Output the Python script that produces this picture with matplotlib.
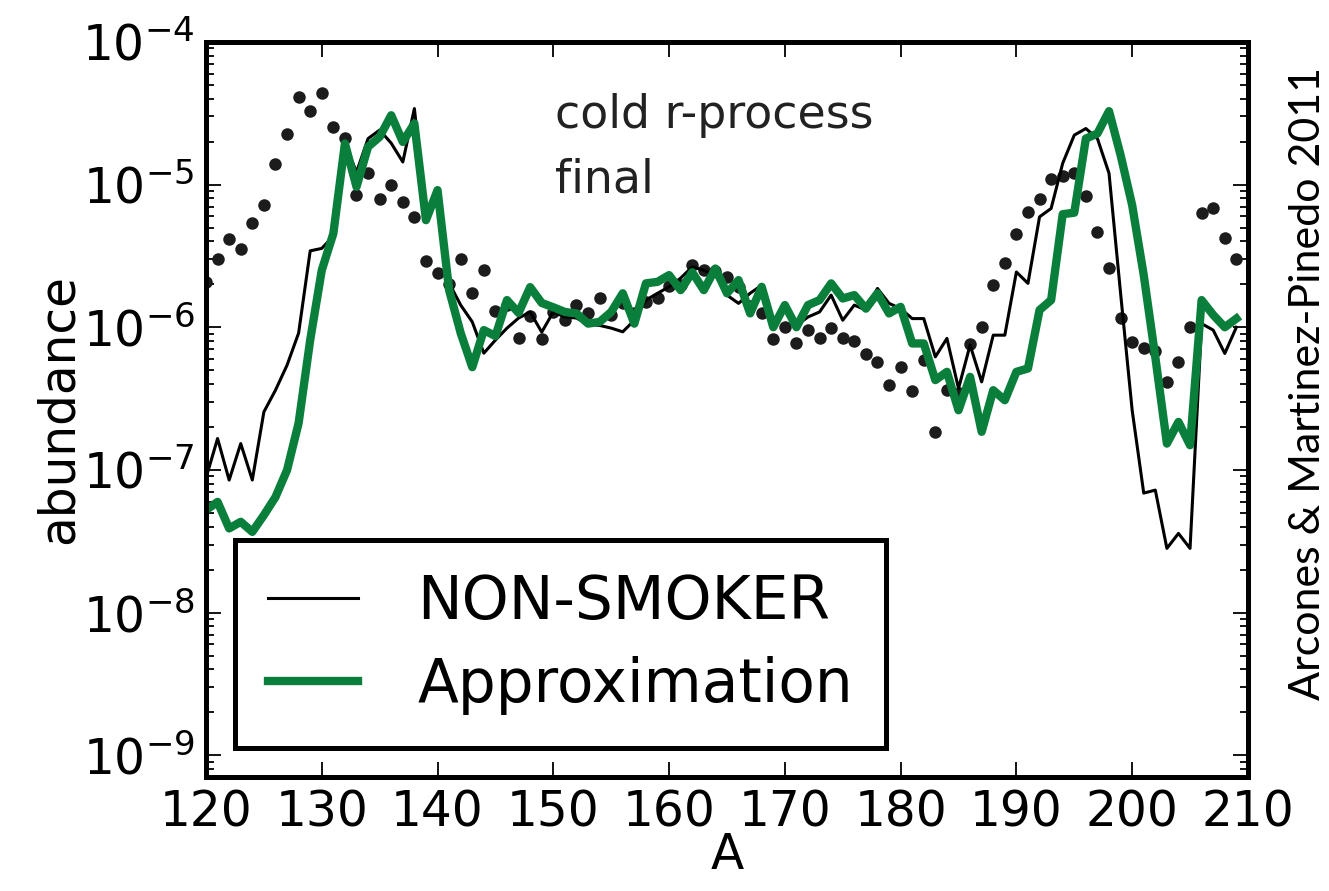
import numpy as np
import matplotlib
matplotlib.use('Agg')
import matplotlib.pyplot as plt
from matplotlib.ticker import LogLocator, NullFormatter

plt.rcParams['axes.unicode_minus'] = False

#%% data (mass number A = 120 ... 209)
mass = np.arange(120, 210)

solar_r = [2.07e-6, 3.0e-6, 4.14e-6, 3.53e-6, 5.37e-6, 7.17e-6, 1.39e-5, 2.25e-5, 4.1e-5, 3.28e-5,
           4.37e-5, 2.52e-5, 2.12e-5, 8.43e-6, 1.2e-5, 7.9e-6, 9.9e-6, 7.53e-6, 5.91e-6, 2.92e-6,
           2.39e-6, 2.0e-6, 3.03e-6, 1.74e-6, 2.51e-6, 1.3e-6, 1.43e-6, 8.39e-7, 1.2e-6, 8.26e-7,
           1.28e-6, 1.12e-6, 1.43e-6, 1.26e-6, 1.6e-6, 1.22e-6, 1.48e-6, 1.26e-6, 1.51e-6, 1.6e-6,
           1.94e-6, 1.99e-6, 2.75e-6, 2.51e-6, 2.48e-6, 2.25e-6, 1.92e-6, 1.41e-6, 1.25e-6, 8.26e-7,
           1.0e-6, 7.78e-7, 9.55e-7, 8.35e-7, 9.9e-7, 8.35e-7, 8.03e-7, 6.48e-7, 5.73e-7, 3.93e-7,
           5.3e-7, 3.58e-7, 5.91e-7, 1.84e-7, 3.62e-7, 3.44e-7, 7.62e-7, 1.0e-6, 1.97e-6, 2.8e-6,
           4.49e-6, 6.44e-6, 7.86e-6, 1.1e-5, 1.15e-5, 1.2e-5, 8.3e-6, 4.66e-6, 2.62e-6, 1.17e-6,
           7.9e-7, 7.1e-7, 6.84e-7, 4.14e-7, 5.73e-7, 1.0e-6, 6.33e-6, 6.8e-6, 4.19e-6, 3.0e-6]

non_smoker = [8.77e-8, 1.66e-7, 8.49e-8, 1.53e-7, 8.5e-8, 2.55e-7, 3.62e-7, 5.42e-7, 9.1e-7, 3.43e-6,
              3.57e-6, 4.35e-6, 1.95e-5, 1.22e-5, 2.1e-5, 2.41e-5, 1.95e-5, 1.44e-5, 3.41e-5, 6.1e-6,
              7.78e-6, 2.04e-6, 1.43e-6, 1.09e-6, 6.58e-7, 8.13e-7, 9.86e-7, 1.16e-6, 1.28e-6, 9.24e-7,
              1.28e-6, 1.18e-6, 1.16e-6, 1.05e-6, 1.03e-6, 9.86e-7, 9.29e-7, 1.12e-6, 1.55e-6, 1.73e-6,
              1.92e-6, 2.21e-6, 2.65e-6, 2.51e-6, 2.32e-6, 1.68e-6, 1.47e-6, 1.73e-6, 1.97e-6, 1.0e-6,
              1.35e-6, 1.03e-6, 1.18e-6, 1.28e-6, 1.68e-6, 1.12e-6, 1.43e-6, 1.32e-6, 1.87e-6, 1.47e-6,
              1.35e-6, 1.15e-6, 1.15e-6, 6.2e-7, 8.35e-7, 3.72e-7, 7.5e-7, 4.14e-7, 8.8e-7, 8.8e-7,
              2.44e-6, 2.03e-6, 5.94e-6, 6.8e-6, 1.41e-5, 2.22e-5, 2.47e-5, 2.1e-5, 1.2e-5, 1.73e-6,
              2.62e-7, 6.88e-8, 7.22e-8, 2.82e-8, 3.59e-8, 2.82e-8, 1.06e-6, 9.55e-7, 6.55e-7, 1.0e-6]

approximation = [5.22e-8, 5.97e-8, 3.89e-8, 4.33e-8, 3.68e-8, 4.82e-8, 6.45e-8, 9.97e-8, 2.13e-7, 8.13e-7,
                 2.51e-6, 4.54e-6, 1.94e-5, 9.64e-6, 1.84e-5, 2.16e-5, 3.06e-5, 1.99e-5, 2.68e-5, 5.63e-6,
                 9.14e-6, 1.82e-6, 9.1e-7, 5.25e-7, 9.55e-7, 8.67e-7, 1.55e-6, 1.26e-6, 1.91e-6, 1.48e-6,
                 1.38e-6, 1.28e-6, 1.25e-6, 1.06e-6, 1.09e-6, 1.28e-6, 1.73e-6, 1.06e-6, 2.03e-6, 2.08e-6,
                 2.32e-6, 1.82e-6, 2.43e-6, 1.82e-6, 2.58e-6, 1.73e-6, 2.14e-6, 1.25e-6, 1.92e-6, 1.0e-6,
                 1.43e-6, 1.0e-6, 1.43e-6, 1.55e-6, 2.03e-6, 1.59e-6, 1.68e-6, 1.35e-6, 1.73e-6, 1.25e-6,
                 1.39e-6, 7.7e-7, 7.7e-7, 4.26e-7, 4.87e-7, 2.62e-7, 4.49e-7, 1.85e-7, 3.62e-7, 3.08e-7,
                 4.87e-7, 5.14e-7, 1.32e-6, 1.55e-6, 6.2e-6, 6.35e-6, 2.1e-5, 2.28e-5, 3.27e-5, 1.61e-5,
                 7.17e-6, 2.32e-6, 6.17e-7, 1.53e-7, 2.17e-7, 1.49e-7, 1.55e-6, 1.22e-6, 1.0e-6, 1.15e-6]

#%% plot
fig = plt.figure(figsize=(13.29, 8.91), dpi=100)
ax = fig.add_axes([0.155, 0.128, 0.784, 0.825])

ax.plot(mass, solar_r, 'o', color='#1c1c1c', markersize=9, markeredgewidth=0)
ax.plot(mass, non_smoker, color='black', lw=2.2, label='NON-SMOKER')
ax.plot(mass, approximation, color='#0a7f3c', lw=6, label='Approximation')

ax.set_yscale('log')
ax.set_xlim(120, 210)
ax.set_ylim(7.05e-10, 1e-4)
ax.set_xticks(np.arange(120, 211, 10))
ax.yaxis.set_major_locator(LogLocator(base=10, numticks=10))
ax.yaxis.set_minor_locator(LogLocator(base=10, subs=np.arange(2, 10), numticks=20))
ax.yaxis.set_minor_formatter(NullFormatter())

ax.tick_params(which='both', direction='in', top=True, right=True, labelsize=35, width=1.3)
ax.tick_params(which='major', length=11, pad=8)
ax.tick_params(which='minor', length=6)
for s in ax.spines.values():
    s.set_linewidth(3.6)

ax.set_xlabel('A', fontsize=35, labelpad=-4)
ax.set_ylabel('abundance', fontsize=35, labelpad=0)

ax.text(0.335, 0.93, 'cold r-process\nfinal', transform=ax.transAxes, fontsize=33,
        va='top', ha='left', color='#222222', linespacing=1.55)

leg = ax.legend(loc='lower left', bbox_to_anchor=(0.028, 0.04), fontsize=43, fancybox=False,
                edgecolor='black', framealpha=1, handlelength=1.5, handletextpad=1.0,
                borderpad=0.55, labelspacing=0.4, borderaxespad=0)
leg.get_frame().set_linewidth(3.6)

fig.text(1289 / 1329, 0.214, 'Arcones & Martinez-Pinedo 2011', rotation=90, fontsize=31,
         family='Lato', ha='left', va='bottom', color='black')

plt.savefig('out.png', dpi=100)
